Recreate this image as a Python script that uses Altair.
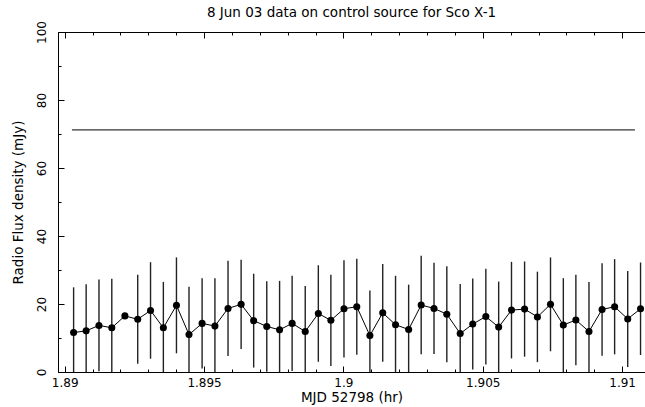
import altair as alt
import pandas as pd

# ---------------- data ----------------
mjd_hr = [1.89032, 1.89077, 1.89123, 1.89169, 1.89216, 1.89262, 1.89308, 1.89354,
          1.89401, 1.89446, 1.89493, 1.89539, 1.89586, 1.89633, 1.89678, 1.89725,
          1.89771, 1.89816, 1.89863, 1.89910, 1.89955, 1.90002, 1.90048, 1.90095,
          1.90141, 1.90187, 1.90234, 1.90279, 1.90325, 1.90371, 1.90419, 1.90464,
          1.90511, 1.90557, 1.90603, 1.90650, 1.90696, 1.90743, 1.90789, 1.90834,
          1.90881, 1.90928, 1.90973, 1.91020, 1.91066]
flux = [11.6, 12.1, 13.7, 13.0, 16.5, 15.5, 18.1, 13.0, 19.6, 11.0, 14.3, 13.5,
        18.7, 19.9, 15.1, 13.4, 12.4, 14.3, 11.9, 17.2, 15.2, 18.6, 19.2, 10.7,
        17.4, 13.9, 12.5, 19.7, 18.7, 17.0, 11.3, 14.1, 16.3, 13.2, 18.2, 18.5,
        16.2, 19.9, 13.8, 15.3, 11.9, 18.4, 19.2, 15.6, 18.6]
flux_err = [13.3, 13.7, 13.5, 14.4, 0.0, 13.1, 14.2, 13.5, 14.1, 14.1, 13.3, 14.1,
            14.0, 13.1, 13.8, 13.3, 14.4, 14.0, 13.4, 14.2, 13.4, 14.3, 14.1, 13.3,
            14.4, 14.4, 13.2, 14.5, 13.4, 14.1, 14.6, 13.4, 14.1, 13.4, 14.2, 14.0,
            13.3, 13.8, 13.8, 13.3, 14.6, 13.6, 14.0, 14.1, 13.6]
ref_x = [1.89026, 1.91046]
ref_flux = [71.2, 71.2]

x_major = [1.89, 1.895, 1.9, 1.905, 1.91]
x_minor = [1.89, 1.891, 1.892, 1.893, 1.894, 1.895, 1.896, 1.897, 1.898, 1.899, 1.9,
           1.901, 1.902, 1.903, 1.904, 1.905, 1.906, 1.907, 1.908, 1.909, 1.91]
y_major = [0, 20, 40, 60, 80, 100]
y_minor = [0, 10, 20, 30, 40, 50, 60, 70, 80, 90, 100]

x_domain = [1.88976, 1.91082]
y_domain = [0, 100]

TITLE = "8 Jun 03 data on control source for Sco X-1"
X_TITLE = "MJD 52798 (hr)"
Y_TITLE = "Radio Flux density (mJy)"

# ---------------- frames ----------------
df = pd.DataFrame({"x": mjd_hr, "y": flux, "err": flux_err})
df["lo"] = df["y"] - df["err"]
df["hi"] = df["y"] + df["err"]
ref = pd.DataFrame({"x": ref_x, "y": ref_flux})

FONT = "DejaVu Sans"
xs = alt.Scale(domain=x_domain, nice=False, zero=False)
ys = alt.Scale(domain=y_domain, nice=False, zero=True)


def tick_axis(orient, values, size):
    return alt.Axis(orient=orient, values=values, labels=False, domain=False,
                    ticks=True, tickSize=size, offset=-size, tickColor="black",
                    tickWidth=1, grid=False, title=None)


x_main = alt.Axis(orient="bottom", values=x_major, format="~g", ticks=False,
                  tickSize=0, domain=True, domainColor="black", domainWidth=1,
                  grid=False, labelFont=FONT, labelFontSize=12, labelColor="black",
                  labelPadding=5, title=X_TITLE, titleFont=FONT, titleFontSize=13.5,
                  titleFontWeight="normal", titleColor="black", titlePadding=2)
y_main = alt.Axis(orient="left", values=y_major, ticks=False, tickSize=0,
                  domain=True, domainColor="black", domainWidth=1, grid=False,
                  labelFont=FONT, labelFontSize=12, labelColor="black",
                  labelAngle=270, labelAlign="center", labelBaseline="bottom",
                  labelPadding=10, title=Y_TITLE, titleFont=FONT, titleFontSize=13.5,
                  titleFontWeight="normal", titleColor="black", titlePadding=10)
x_top_domain = alt.Axis(orient="top", labels=False, ticks=False, tickSize=0,
                        domain=True, domainColor="black", domainWidth=1,
                        grid=False, title=None)

bars = alt.Chart(df).mark_rule(color="#222222", strokeWidth=1.4, clip=True).encode(
    x=alt.X("x:Q", scale=xs, axis=x_main),
    y=alt.Y("lo:Q", scale=ys, axis=y_main),
    y2="hi:Q",
)
line = alt.Chart(df).mark_line(color="black", strokeWidth=1).encode(
    x=alt.X("x:Q", scale=xs, axis=tick_axis("bottom", x_major, 6)),
    y=alt.Y("y:Q", scale=ys, axis=tick_axis("left", y_major, 6)),
)
pts = alt.Chart(df).mark_point(filled=True, color="black", size=50, opacity=1).encode(
    x=alt.X("x:Q", scale=xs, axis=tick_axis("bottom", x_minor, 3)),
    y=alt.Y("y:Q", scale=ys, axis=tick_axis("left", y_minor, 3)),
)
refline = alt.Chart(ref).mark_line(color="black", strokeWidth=1).encode(
    x=alt.X("x:Q", scale=xs, axis=x_top_domain),
    y=alt.Y("y:Q", scale=ys, axis=None),
)
top_major = alt.Chart(ref).mark_point(opacity=0).encode(
    x=alt.X("x:Q", scale=xs, axis=tick_axis("top", x_major, 6)),
    y=alt.Y("y:Q", scale=ys, axis=None),
)
top_minor = alt.Chart(ref).mark_point(opacity=0).encode(
    x=alt.X("x:Q", scale=xs, axis=tick_axis("top", x_minor, 3)),
    y=alt.Y("y:Q", scale=ys, axis=None),
)

chart = (
    alt.layer(bars, line, pts, refline, top_major, top_minor)
    .resolve_axis(x="independent", y="independent")
    .properties(
        width=587,
        height=340,
        autosize=alt.AutoSizeParams(type="none"),
        padding={"left": 58, "top": 32, "right": 0, "bottom": 35},
        background="white",
        title=alt.TitleParams(TITLE, font=FONT, fontSize=13.5, fontWeight="normal",
                              color="black", anchor="middle", offset=1),
    )
    .configure_view(stroke=None)
)

chart.save("out.html", embed_options={"renderer": "svg", "actions": False})
